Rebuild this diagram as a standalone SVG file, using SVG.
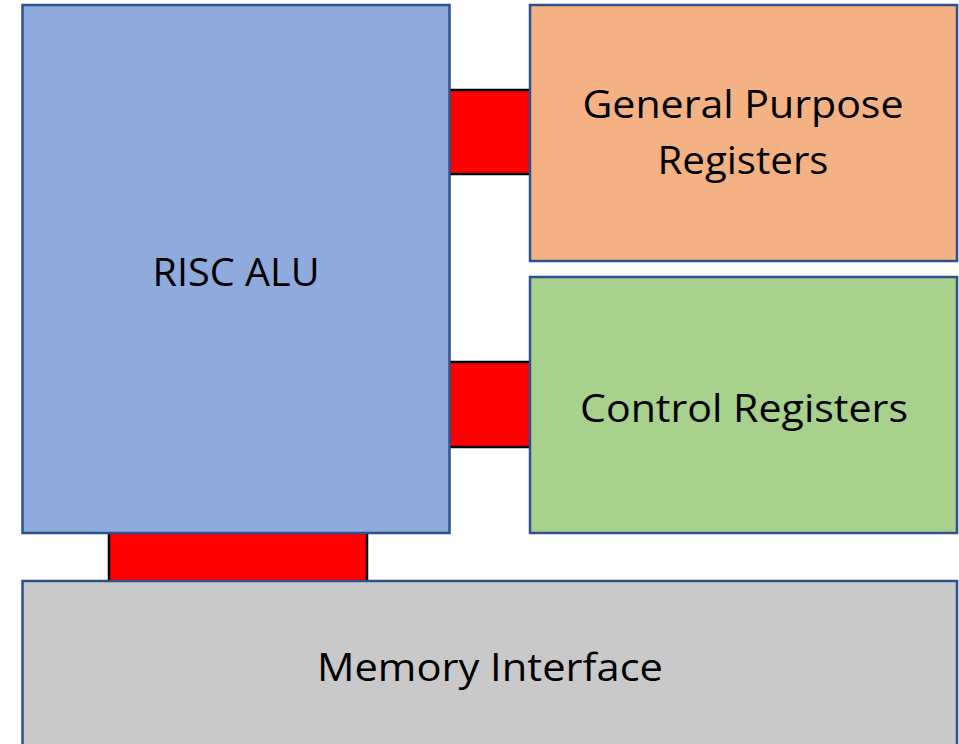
<svg xmlns="http://www.w3.org/2000/svg" width="959" height="744" viewBox="0 0 959 744">
<style>
.box{stroke:#2F528F;stroke-width:2.5}
.link{fill:#FF0000;stroke:#000000;stroke-width:2.5}
.lbl{font-family:"Open Sans","Liberation Sans",sans-serif;font-size:38px;fill:#000000;text-anchor:middle}
</style>
<rect width="959" height="744" fill="#FFFFFF"/>
<g id="connectors">
<rect class="link" x="445" y="90" width="90" height="84"/>
<rect class="link" x="445" y="362" width="90" height="85"/>
<rect class="link" x="109" y="528" width="258" height="58"/>
</g>
<g id="alu">
<rect class="box" x="22.5" y="5" width="427" height="528" fill="#8FAADC"/>
<text class="lbl" x="236" y="286" textLength="167" lengthAdjust="spacingAndGlyphs">RISC ALU</text>
</g>
<g id="gpr">
<rect class="box" x="530" y="5" width="427" height="256" fill="#F4B183"/>
<text class="lbl" x="743" y="118" textLength="321" lengthAdjust="spacingAndGlyphs">General Purpose</text>
<text class="lbl" x="743" y="174" textLength="171" lengthAdjust="spacingAndGlyphs">Registers</text>
</g>
<g id="ctrl">
<rect class="box" x="530" y="277" width="427" height="256" fill="#A9D18E"/>
<text class="lbl" x="744" y="422" textLength="328" lengthAdjust="spacingAndGlyphs">Control Registers</text>
</g>
<g id="mem">
<rect class="box" x="22.5" y="581" width="934.5" height="180" fill="#C9C9C9"/>
<text class="lbl" x="490" y="681" textLength="346" lengthAdjust="spacingAndGlyphs">Memory Interface</text>
</g>
</svg>
